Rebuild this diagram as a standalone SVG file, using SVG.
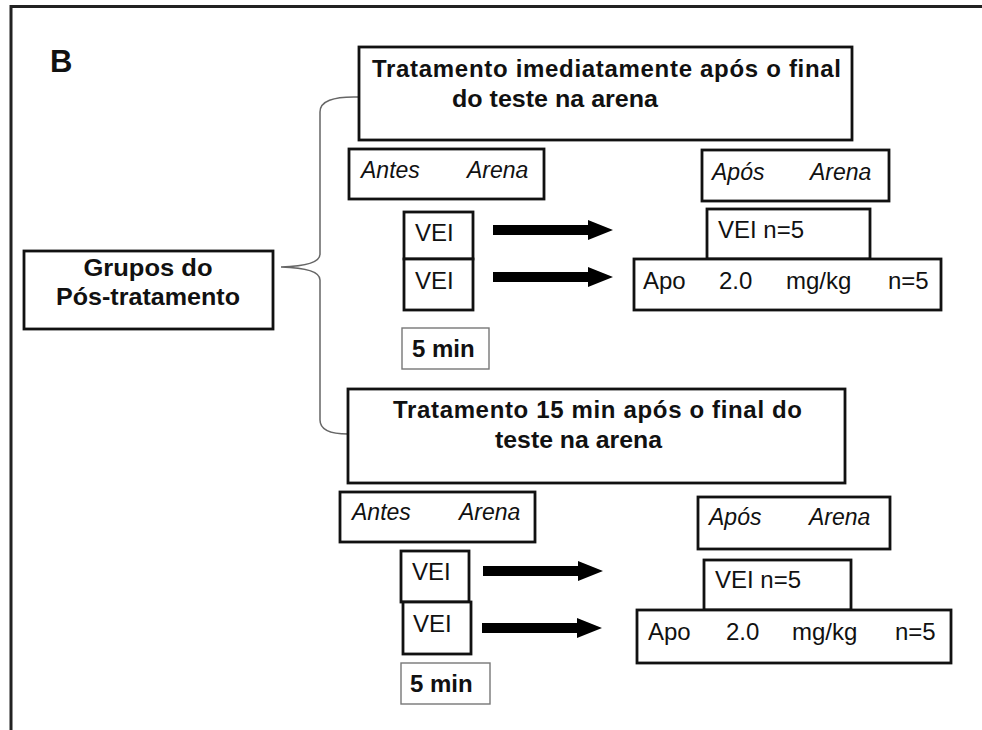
<svg xmlns="http://www.w3.org/2000/svg" xmlns:xlink="http://www.w3.org/1999/xlink" width="982" height="730" viewBox="0 0 982 730">
  <style>
    .frame { fill: none; stroke: #222; stroke-width: 3; }
    .box { fill: #fff; stroke: #111; stroke-width: 2.8; }
    .thin { fill: #fff; stroke: #777; stroke-width: 1.4; }
    .brace { fill: none; stroke: #666; stroke-width: 1.5; }
    .arrow { fill: #000; }
    text { font-family: "Liberation Sans", Arial, sans-serif; fill: #111; }
    .b { font-weight: bold; font-size: 24px; }
    .r { font-size: 24px; }
    .i { font-style: italic; font-size: 23px; }
    .mid { text-anchor: middle; }
  </style>
  <defs>
    <path id="arr" d="M0,-5 H95 V-10 L120,0 L95,10 V5 H0 Z"/>
  </defs>

  <rect width="982" height="730" fill="#fff"/>
  <!-- panel frame: top and left edges -->
  <path class="frame" d="M11,730 V6.5 H982"/>
  <text x="50" y="72" font-weight="bold" font-size="31">B</text>

  <g id="connectors">
    <path class="brace" d="M358,97 Q320,96 320,112 L320,254 Q320,266 281,267 Q320,268 320,280 L320,420 Q320,434 348,434"/>
    <use href="#arr" xlink:href="#arr" class="arrow" x="493" y="230"/>
    <use href="#arr" xlink:href="#arr" class="arrow" x="493" y="277"/>
    <use href="#arr" xlink:href="#arr" class="arrow" x="483" y="571"/>
    <use href="#arr" xlink:href="#arr" class="arrow" x="482" y="628"/>
  </g>

  <g id="grupos">
    <rect class="box" x="24" y="251" width="249" height="78"/>
    <text class="b mid" x="148" y="276" textLength="129" lengthAdjust="spacingAndGlyphs">Grupos do</text>
    <text class="b mid" x="148" y="305" textLength="184" lengthAdjust="spacingAndGlyphs">Pós-tratamento</text>
  </g>

  <!-- first post-treatment schedule -->
  <g id="titulo1">
    <rect class="box" x="359" y="47" width="493" height="93"/>
    <text class="b" x="372" y="77" textLength="469">Tratamento imediatamente após o final</text>
    <text class="b" x="452" y="107" textLength="206" lengthAdjust="spacingAndGlyphs">do teste na arena</text>
  </g>
  <g id="antes1">
    <rect class="box" x="349" y="149" width="195" height="50"/>
    <text class="i" x="361" y="178">Antes</text>
    <text class="i" x="467" y="178">Arena</text>
  </g>
  <g id="apos1">
    <rect class="box" x="702" y="150" width="187" height="51"/>
    <text class="i" x="712" y="180">Após</text>
    <text class="i" x="810" y="180">Arena</text>
  </g>
  <g id="vei1a">
    <rect class="box" x="404" y="212" width="69" height="47"/>
    <text class="r" x="415" y="241">VEI</text>
  </g>
  <g id="vei1b">
    <rect class="box" x="404" y="259" width="69" height="51"/>
    <text class="r" x="415" y="289">VEI</text>
  </g>
  <g id="tempo1">
    <rect class="thin" x="402" y="328" width="87" height="41"/>
    <text class="b" x="412" y="357">5 min</text>
  </g>
  <g id="grupoVei1">
    <rect class="box" x="707" y="209" width="163" height="50"/>
    <text class="r" x="718" y="238">VEI n=5</text>
  </g>
  <g id="grupoApo1">
    <rect class="box" x="634" y="259" width="307" height="51"/>
    <text class="r" x="643" y="289">Apo</text>
    <text class="r" x="719" y="289">2.0</text>
    <text class="r" x="786" y="289">mg/kg</text>
    <text class="r" x="888" y="289">n=5</text>
  </g>

  <!-- second post-treatment schedule -->
  <g id="titulo2">
    <rect class="box" x="348" y="389" width="497" height="94"/>
    <text class="b" x="393" y="418" textLength="409">Tratamento 15 min após o final do</text>
    <text class="b" x="495" y="448" textLength="167" lengthAdjust="spacingAndGlyphs">teste na arena</text>
  </g>
  <g id="antes2">
    <rect class="box" x="340" y="492" width="195" height="50"/>
    <text class="i" x="352" y="520">Antes</text>
    <text class="i" x="459" y="520">Arena</text>
  </g>
  <g id="apos2">
    <rect class="box" x="698" y="497" width="192" height="52"/>
    <text class="i" x="709" y="525">Após</text>
    <text class="i" x="809" y="525">Arena</text>
  </g>
  <g id="vei2a">
    <rect class="box" x="401" y="551" width="68" height="51"/>
    <text class="r" x="412" y="580">VEI</text>
  </g>
  <g id="vei2b">
    <rect class="box" x="403" y="602" width="68" height="52"/>
    <text class="r" x="413" y="632">VEI</text>
  </g>
  <g id="tempo2">
    <rect class="thin" x="401" y="663" width="89" height="41"/>
    <text class="b" x="410" y="692">5 min</text>
  </g>
  <g id="grupoVei2">
    <rect class="box" x="704" y="560" width="147" height="50"/>
    <text class="r" x="715" y="588">VEI n=5</text>
  </g>
  <g id="grupoApo2">
    <rect class="box" x="637" y="610" width="314" height="53"/>
    <text class="r" x="648" y="640">Apo</text>
    <text class="r" x="726" y="640">2.0</text>
    <text class="r" x="792" y="640">mg/kg</text>
    <text class="r" x="895" y="640">n=5</text>
  </g>
</svg>
